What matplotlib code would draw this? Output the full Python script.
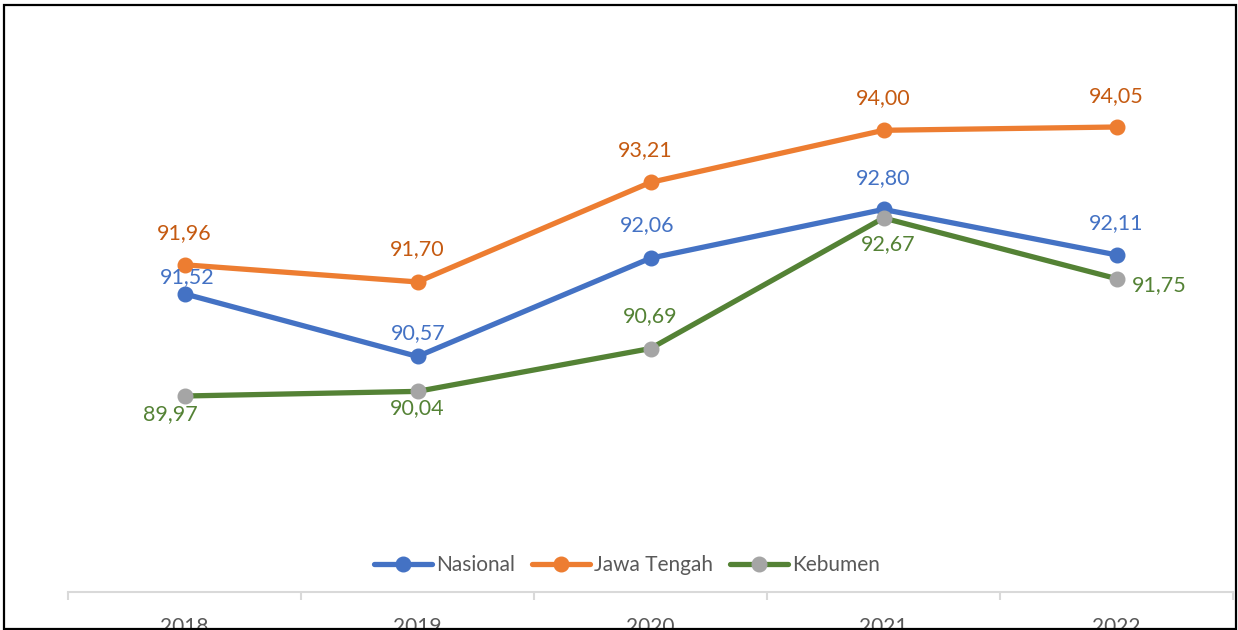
import matplotlib
matplotlib.use("Agg")
import matplotlib.pyplot as plt
from matplotlib.patches import Rectangle
from matplotlib.lines import Line2D

years = ["2018", "2019", "2020", "2021", "2022"]
nasional = [91.52, 90.57, 92.06, 92.80, 92.11]
jawa_tengah = [91.96, 91.70, 93.21, 94.00, 94.05]
kebumen = [89.97, 90.04, 90.69, 92.67, 91.75]

# label offsets in pixels (dx, dy) relative to point
off_nas = [(3, 17), (1, 23), (-3, 33), (0, 31), (0, 32)]
off_jt = [(0, 32), (0, 33), (-5, 32), (0, 32), (0, 31)]
off_keb = [(-14, -18), (0, -17), (0, 32), (5, -26), (43, -6)]

W, H = 1238, 630
fig = plt.figure(figsize=(W / 100, H / 100), dpi=100)
plt.rcParams['font.family'] = ['Lato', 'DejaVu Sans']

px_per_unit = (396 - 127) / (94.05 - 89.97)
y_bottom_px, y_top_px = 592, 20
ymin = 89.97 - (y_bottom_px - 396) / px_per_unit
ymax = 94.05 + (127 - y_top_px) / px_per_unit

ax = fig.add_axes([68 / W, (H - y_bottom_px) / H, (1233 - 68) / W, (y_bottom_px - y_top_px) / H])
ax.set_xlim(-0.5, len(years) - 0.5)
ax.set_ylim(ymin, ymax)

blue = "#4472C4"
orange = "#ED7D31"
green = "#548235"
gray = "#A5A5A5"

x = list(range(len(years)))
ax.plot(x, nasional, color=blue, lw=3.8, marker="o", ms=10.5, mfc=blue, mec=blue,
        solid_capstyle="round", zorder=3, label="Nasional")
ax.plot(x, jawa_tengah, color=orange, lw=3.8, marker="o", ms=10.5, mfc=orange, mec=orange,
        solid_capstyle="round", zorder=3, label="Jawa Tengah")
ax.plot(x, kebumen, color=green, lw=3.8, marker="o", ms=10.5, mfc=gray, mec=gray,
        solid_capstyle="round", zorder=4, label="Kebumen")

def fmt(v):
    return f"{v:.2f}".replace(".", ",")

fs = 15.5
for vals, offs, col in [(nasional, off_nas, blue), (jawa_tengah, off_jt, "#C55A11"), (kebumen, off_keb, green)]:
    for i, (v, (dx, dy)) in enumerate(zip(vals, offs)):
        ax.annotate(fmt(v), (i, v), xytext=(dx * 0.72, dy * 0.72), textcoords="offset points",
                    ha="center", va="center", fontsize=fs, color=col, zorder=5)

for s in ["top", "right", "left"]:
    ax.spines[s].set_visible(False)
ax.spines["bottom"].set_color("#D9D9D9")
ax.spines["bottom"].set_linewidth(1.5)
ax.set_yticks([])
ax.set_xticks(x)
ax.set_xticklabels(years, fontsize=15, color="#595959")
ax.tick_params(axis="x", which="major", length=0, pad=18)
ax.set_xticks([i - 0.5 for i in range(len(years) + 1)], minor=True)
ax.tick_params(axis="x", which="minor", length=6, width=1.5, color="#D9D9D9", direction="out")

handles = [
    Line2D([], [], color=blue, lw=3.8, marker="o", ms=10.5, mfc=blue, mec=blue, solid_capstyle="round"),
    Line2D([], [], color=orange, lw=3.8, marker="o", ms=10.5, mfc=orange, mec=orange, solid_capstyle="round"),
    Line2D([], [], color=green, lw=3.8, marker="o", ms=10.5, mfc=gray, mec=gray, solid_capstyle="round"),
]
fig.legend(handles, ["Nasional", "Jawa Tengah", "Kebumen"], loc="center",
           bbox_to_anchor=(627 / W, 1 - 565 / H), ncol=3, frameon=False,
           fontsize=15, labelcolor="#595959", handlelength=2.8, handletextpad=0.2,
           columnspacing=0.8)

fig.patches.append(Rectangle((4 / W, 1 / H), (1236 - 4) / W, (625 - 1) / H,
                             transform=fig.transFigure, fill=False, edgecolor="black",
                             linewidth=1.6, zorder=10))

fig.savefig("out.png", dpi=100)
